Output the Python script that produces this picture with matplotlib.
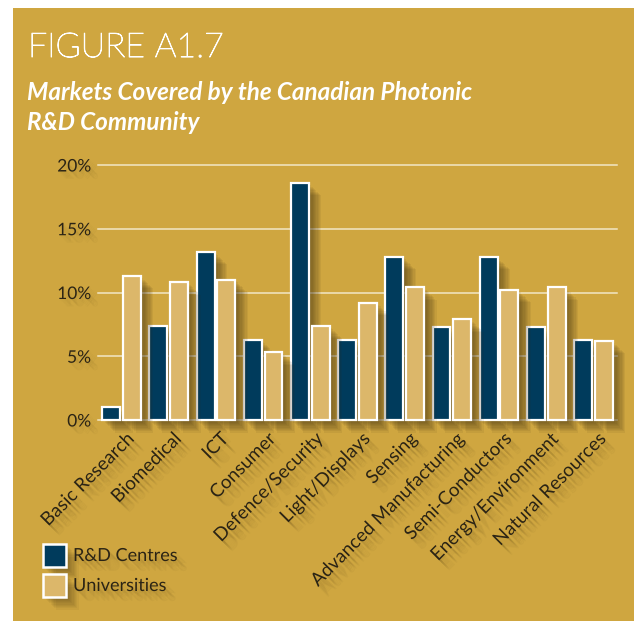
import matplotlib
matplotlib.use("Agg")
import matplotlib.pyplot as plt
import matplotlib.patheffects as pe
from matplotlib.patches import Rectangle
import numpy as np

# market categories and share of each group (%)
markets = ["Basic Research", "Biomedical", "ICT", "Consumer", "Defence/Security",
           "Light/Displays", "Sensing", "Advanced Manufacturing", "Semi-Conductors",
           "Energy/Environment", "Natural Resources"]
rd_centres = [1.0, 7.4, 13.2, 6.3, 18.6, 6.3, 12.8, 7.3, 12.8, 7.3, 6.3]
universities = [11.3, 10.8, 11.0, 5.3, 7.4, 9.2, 10.4, 7.9, 10.2, 10.4, 6.2]
yticks = [0, 5, 10, 15, 20]

GOLD = "#cfa640"
NAVY = "#003b5c"
SAND = "#dcb76a"
INK = "#2b2415"
SHADOW = "#3a2a0e"

W, H = 634, 621
fig = plt.figure(figsize=(W / 100, H / 100), dpi=100, facecolor="white")

# gold panel behind everything
fig.patches.append(Rectangle((13 / W, 0), 1 - 13 / W, (H - 8) / H,
                             transform=fig.transFigure, facecolor=GOLD,
                             edgecolor="none", zorder=-5))

ax = fig.add_axes([98 / W, (H - 420) / H, 519 / W, 255 / H])
ax.set_facecolor("none")
ax.set_zorder(2)


def soft_shadow(steps, alpha, scale=1.0):
    effects = []
    for i in range(1, steps + 1):
        effects.append(pe.SimplePatchShadow(offset=(i * scale, -i * scale),
                                            shadow_rgbFace=SHADOW, alpha=alpha))
    effects.append(pe.Normal())
    return effects


bar_fx = soft_shadow(10, 0.07, 0.9)

x = np.arange(len(markets))
width = 0.38
for val_list, off, col in [(rd_centres, -0.22, NAVY), (universities, 0.22, SAND)]:
    bars = ax.bar(x + off, val_list, width, color=col, edgecolor="white",
                  linewidth=1.6, zorder=3, clip_on=False)
    for b in bars:
        b.set_path_effects(bar_fx)

for t in yticks:
    ax.axhline(t, color="#f1e6c6", lw=1.1, zorder=1, clip_on=False)

ax.set_xlim(-0.5, len(markets) - 0.5)
ax.set_ylim(0, 20)
ax.set_yticks(yticks)
ylabels = ax.set_yticklabels([f"{t}%" for t in yticks], fontsize=12.5,
                             color=INK, family="Lato")
ax.tick_params(axis="y", length=0, pad=5)
for lab in ylabels:
    lab.set_path_effects(soft_shadow(6, 0.03, 0.9))
ax.set_xticks(x + 0.08)
labels = ax.set_xticklabels(markets, rotation=45, ha="right",
                            rotation_mode="anchor", fontsize=13.5,
                            color=INK, family="Lato")
ax.tick_params(axis="x", length=0, pad=7)
text_fx = soft_shadow(8, 0.035, 0.9)
for lab in labels:
    lab.set_path_effects(text_fx)
for s in ax.spines.values():
    s.set_visible(False)

# headings
title = fig.text(28 / W, 1 - 57 / H, "FIGURE A1.7", color="white", fontsize=24.5,
                 family="Lato", weight="light", ha="left", va="baseline")
title.set_path_effects([pe.Stroke(linewidth=0.7, foreground="white"), pe.Normal()])
fig.text(27 / W, 1 - 100 / H, "Markets Covered by the Canadian Photonic",
         color="white", fontsize=17.5, family="Lato", weight="bold",
         style="italic", ha="left", va="baseline")
fig.text(27 / W, 1 - 130 / H, "R&D Community", color="white", fontsize=17.5,
         family="Lato", weight="bold", style="italic", ha="left", va="baseline")

# legend
for (y0, col, name) in [(543, NAVY, "R&D Centres"), (573, SAND, "Universities")]:
    sq = Rectangle((43 / W, 1 - (y0 + 24) / H), 23 / W, 23 / H,
                   transform=fig.transFigure, facecolor=col,
                   edgecolor="white", linewidth=1.8, zorder=3)
    sq.set_path_effects(soft_shadow(10, 0.05, 0.9))
    fig.patches.append(sq)
    t = fig.text(73 / W, 1 - (y0 + 13) / H, name, color=INK, fontsize=13,
                 family="Lato", ha="left", va="center")
    t.set_path_effects(soft_shadow(8, 0.035, 0.9))

fig.savefig("out.png", dpi=100, facecolor="white")
